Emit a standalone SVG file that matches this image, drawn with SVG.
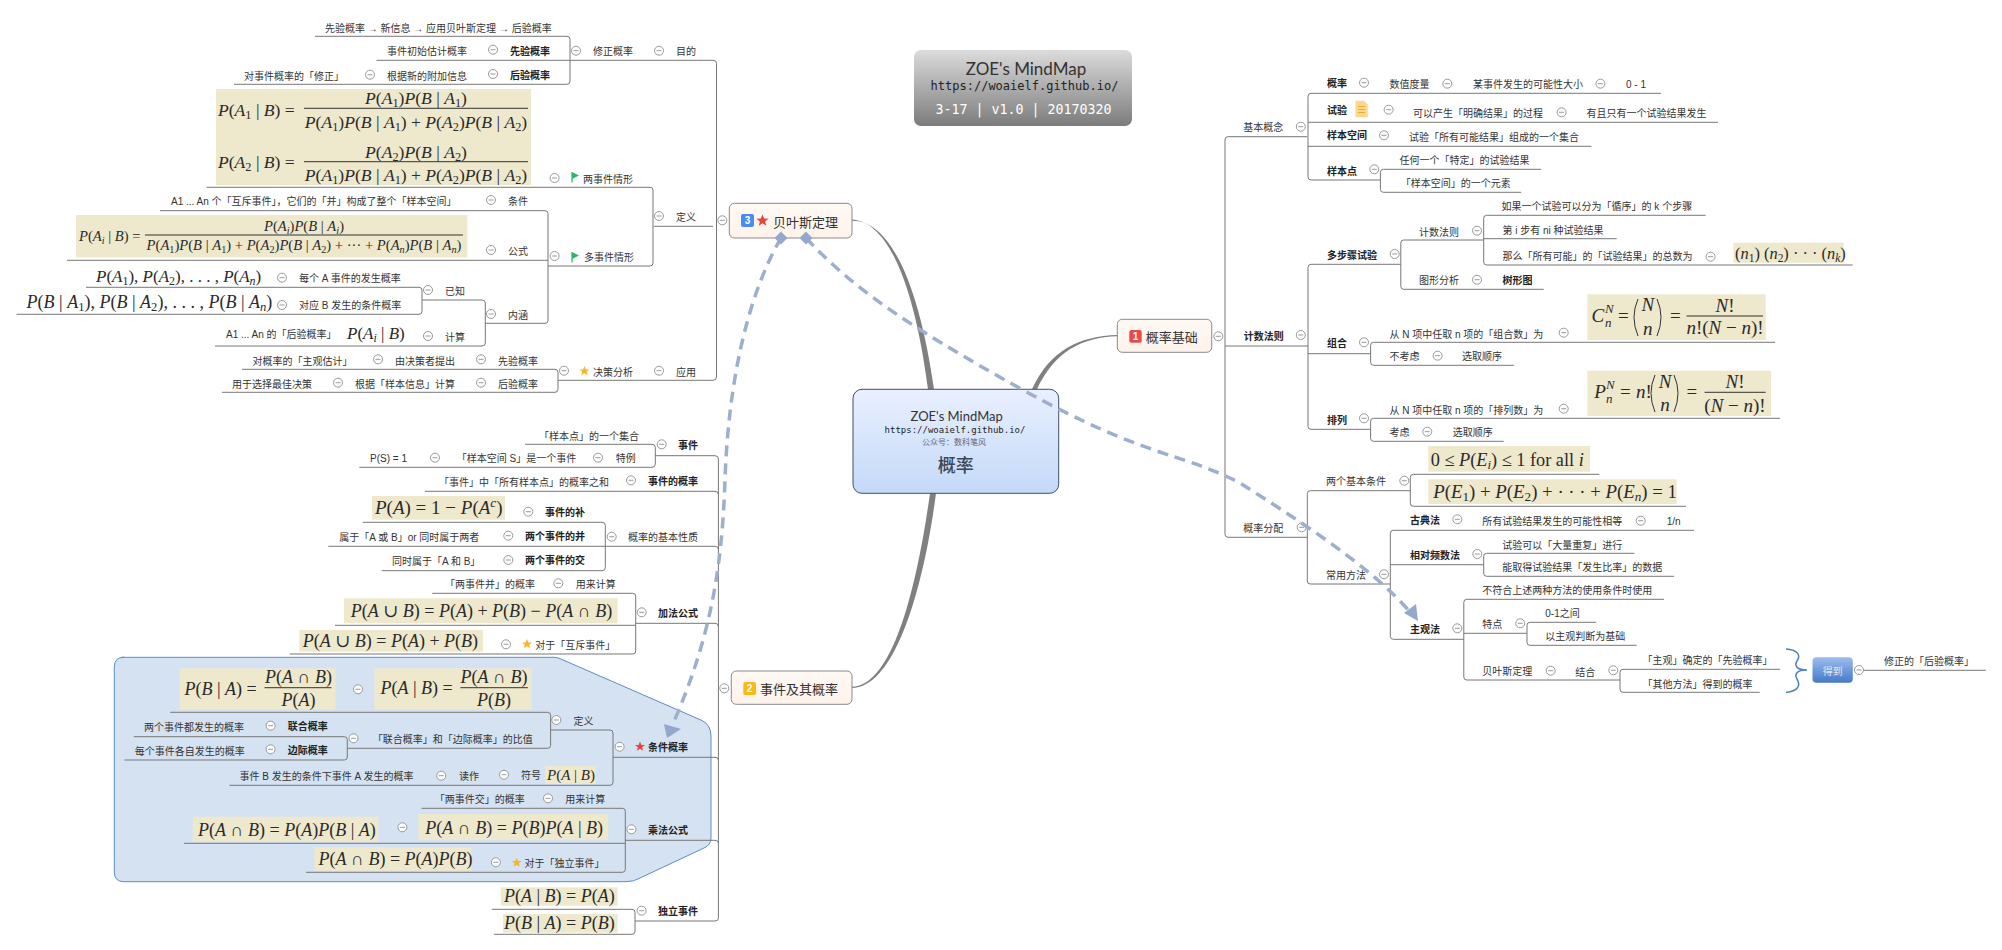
<svg xmlns="http://www.w3.org/2000/svg" width="2002" height="950" viewBox="0 0 2002 950">
<style>
svg{font-family:"Liberation Sans","Noto Sans CJK SC",sans-serif;font-size:10px}
text{fill:#333}
.b{font-weight:bold;fill:#222}
.tt{font-size:13px;fill:#333}
text.m{font-family:"Liberation Serif","DejaVu Serif",serif;fill:#2a2a2a}
.m tspan{font-style:italic}
.m tspan.s{font-style:normal;font-size:70%;baseline-shift:-.25em}
.m tspan.si{font-size:70%;baseline-shift:-.25em}
.m tspan.u{font-size:70%;baseline-shift:.5em}
.eq{fill:#eee8cd}
.fl{stroke:#333;stroke-width:1;fill:none}
.mid{text-anchor:middle}
.cn{fill:none;stroke:#777;stroke-width:1}
.rel{fill:none;stroke:#9dafcc;stroke-width:3.5;stroke-dasharray:11 7}
.ra{fill:#94a8cc}
.top{fill:url(#gT);stroke:#8a8a8a;stroke-width:1}
.br{fill:#808080}
.mono{font-family:"DejaVu Sans Mono",monospace}
.dig{font-size:10px;font-weight:bold;fill:#fff;text-anchor:middle}
</style>
<defs>
<linearGradient id="gC" x1="0" y1="0" x2="0" y2="1"><stop offset="0" stop-color="#e9f0ff"/><stop offset="1" stop-color="#c4d9f8"/></linearGradient>
<linearGradient id="gT" x1="0" y1="0" x2="0" y2="1"><stop offset="0" stop-color="#fff9f4"/><stop offset="1" stop-color="#fdf3ea"/></linearGradient>
<linearGradient id="gH" x1="0" y1="0" x2="0" y2="1"><stop offset="0" stop-color="#dcdcdc"/><stop offset="1" stop-color="#7c7c7c"/></linearGradient>
<linearGradient id="gD" x1="0" y1="0" x2="0" y2="1"><stop offset="0" stop-color="#9dbdf0"/><stop offset="1" stop-color="#4678c8"/></linearGradient>
<g id="c"><circle r="4.5" fill="#fff" stroke="#999" stroke-width="1"/><path d="M-2.5 0H2.5" stroke="#999" stroke-width="1"/></g>
<polygon id="st" points="0,-5 1.4,-1.6 5,-1.5 2.2,.8 3.1,4.3 0,2.3 -3.1,4.3 -2.2,.8 -5,-1.5 -1.4,-1.6"/>
<path id="fg" d="M0 -5V5.5" stroke="#2ab56a" stroke-width="1.2" fill="none"/>
</defs>

<g id="boundary"><path d="M122 657.3H554Q558 657.3 562 659.5L702 720.5Q711 725 711 736V838Q711 845 704 848L640 878Q634 881.7 626 881.7H124Q114.3 881.7 114.3 872V667Q114.3 657.3 124 657.3Z" fill="#d5e2f2" stroke="#5b8ec4" stroke-width="1"/></g>

<g id="connectors">
<path class="br" d="M852 219.5C890 222 915 290 928 389.3L934 389.3C920 290 892 220 852 220.7Z"/>
<path class="br" d="M852 686.8C890 686 915 600 930 493.3L936 493.3C922 600 892 688 852 688Z"/>
<path class="br" d="M1117.3 335C1080 336 1050 350 1032 389.3L1037 389.3C1054 352 1082 337 1117.3 336.2Z"/>
<path class="cn" d="M315 36.3H567Q570 36.3 570 39.3V81.3Q570 84.3 567 84.3H234"/>
<path class="cn" d="M376.5 60.3H713Q716.5 60.3 716.5 63.3V377Q716.5 380.3 713 380.3H558"/>
<path class="cn" d="M206.6 187.3H650Q653 187.3 653 190V263Q653 266 650 266H548"/>
<path class="cn" d="M654 226.3H713"/>
<path class="cn" d="M160 210.7H545Q548 210.7 548 213.7V320.3Q548 323.3 545 323.3H485.3"/>
<path class="cn" d="M67 260.3H548"/>
<path class="cn" d="M86 287.3H419Q422 287.3 422 290.3V311.3Q422 314.3 419 314.3H16.5"/>
<path class="cn" d="M422 300H482Q485.3 300 485.3 303V343Q485.3 346 482 346H215"/>
<path class="cn" d="M242 369.3H555Q558 369.3 558 372.3V389.3Q558 392.3 555 392.3H222"/>
<path class="cn" d="M525 444.3H652Q655.3 444.3 655.3 447.3V464.3Q655.3 467.3 652 467.3H359.3"/>
<path class="cn" d="M655 455.7H715Q718.4 455.7 718.4 459V918Q718.4 921 715 921H635"/>
<path class="cn" d="M425 491.3H715Q718.4 491.3 718.4 494.5"/>
<path class="cn" d="M362.7 522.3H602Q605.3 522.3 605.3 525.3V567.7Q605.3 570.7 602 570.7H381.7"/>
<path class="cn" d="M328.3 546.3H715Q718.4 546.3 718.4 549.5"/>
<path class="cn" d="M432.3 593.3H632.7Q635.7 593.3 635.7 596.3V651Q635.7 654 632.7 654H289.8"/>
<path class="cn" d="M335 625.3H635.7"/>
<path class="cn" d="M635.7 623.3H715Q718.4 623.3 718.4 626.5"/>
<path class="cn" d="M170.2 712.3H547.6Q550.6 712.3 550.6 715.3V745.3Q550.6 748.3 547.6 748.3H347.3"/>
<path class="cn" d="M133.9 736.7H344.3Q347.3 736.7 347.3 739.7V757Q347.3 760 344.3 760H124.5"/>
<path class="cn" d="M551 730H610Q613 730 613 733V782.3Q613 785.3 610 785.3H229.4"/>
<path class="cn" d="M613 757.3H715Q718.4 757.3 718.4 760"/>
<path class="cn" d="M421.6 808.3H622.3Q625.3 808.3 625.3 811.3V869.3Q625.3 872.3 622.3 872.3H306"/>
<path class="cn" d="M184 843.3H625.3"/>
<path class="cn" d="M625.3 840.3H715Q718.4 840.3 718.4 843"/>
<path class="cn" d="M491.8 909.3H632Q635 909.3 635 912.3V931.3Q635 934.3 632 934.3H493.9"/>
<path class="cn" d="M1307.3 136.7H1228Q1225 136.7 1225 139.7V534.3Q1225 537.3 1228 537.3H1307.3"/>
<path class="cn" d="M1225 346H1308"/>
<path class="cn" d="M1661 93.3H1311Q1308 93.3 1308 96.3V177Q1308 180 1311 180H1380"/>
<path class="cn" d="M1308 122.3H1718M1308 146.3H1591.4"/>
<path class="cn" d="M1541.2 169.3H1383.4Q1380.4 169.3 1380.4 172.3V189.3Q1380.4 192.3 1383.4 192.3H1521.2"/>
<path class="cn" d="M1705.7 215.3H1486.7Q1483.7 215.3 1483.7 218.3V262Q1483.7 265 1486.7 265H1852.7"/>
<path class="cn" d="M1483.7 238.7H1616.7"/>
<path class="cn" d="M1483.7 240H1403.8Q1400.8 240 1400.8 243V286.3Q1400.8 289.3 1403.8 289.3H1543.7"/>
<path class="cn" d="M1400.8 264.3H1311Q1308 264.3 1308 267.3V426.3Q1308 429.3 1311 429.3H1370.6"/>
<path class="cn" d="M1308 353.7H1370.6"/>
<path class="cn" d="M1775 342.3H1373.6Q1370.6 342.3 1370.6 345.3V362.3Q1370.6 365.3 1373.6 365.3H1513.9"/>
<path class="cn" d="M1780 418.3H1373.6Q1370.6 418.3 1370.6 421.3V438.3Q1370.6 441.3 1373.6 441.3H1503.7"/>
<path class="cn" d="M1410.3 490.7H1310.3Q1307.3 490.7 1307.3 493.7V581Q1307.3 584 1310.3 584H1390.3"/>
<path class="cn" d="M1599.3 474.3H1413.3Q1410.3 474.3 1410.3 477.3V503.3Q1410.3 506.3 1413.3 506.3H1686"/>
<path class="cn" d="M1694 530.3H1393.3Q1390.3 530.3 1390.3 533.3V636.3Q1390.3 639.3 1393.3 639.3H1463.8"/>
<path class="cn" d="M1390.3 564.7H1483.7"/>
<path class="cn" d="M1634.3 553.3H1486.7Q1483.7 553.3 1483.7 556.3V573.3Q1483.7 576.3 1486.7 576.3H1674"/>
<path class="cn" d="M1664 599.3H1466.8Q1463.8 599.3 1463.8 602.3V677Q1463.8 680 1466.8 680H1620"/>
<path class="cn" d="M1463.8 633.3H1527"/>
<path class="cn" d="M1596.3 622.3H1530Q1527 622.3 1527 625.3V642.3Q1527 645.3 1530 645.3H1636.6"/>
<path class="cn" d="M1779.9 669.3H1623Q1620 669.3 1620 672.3V689.3Q1620 692.3 1623 692.3H1759.7"/>
<path class="cn" d="M1862 670.3H1985.8"/>
<path d="M1786 649C1798 650 1801 655 1797 661C1794 666 1797 670 1807 670C1797 670 1794 674 1797 679C1801 686 1798 691 1786 692.5" fill="none" stroke="#4f81bd" stroke-width="1.5"/>
</g>

<g id="title"><rect x="914" y="50" width="218" height="76" rx="7" fill="url(#gH)"/>
<text x="1026" y="75" class="mid" style="font-size:17px;font-family:Lato,sans-serif">ZOE's MindMap</text>
<text x="1024.5" y="90" class="mid mono" style="font-size:12px;fill:#222">https://woaielf.github.io/</text>
<text x="1023.5" y="114" class="mid mono" style="font-size:13.3px;fill:#fff">3-17 | v1.0 | 20170320</text></g>

<g id="center"><rect x="853" y="389.3" width="205.7" height="104" rx="9" fill="url(#gC)" stroke="#3d4f6d" stroke-width="1"/>
<text x="956.7" y="421" class="mid" style="font-size:13px;font-family:Lato,sans-serif">ZOE's MindMap</text>
<text x="955" y="432.5" class="mid mono" style="font-size:9px;fill:#222">https://woaielf.github.io/</text>
<text x="954" y="444.5" class="mid" style="font-size:8px;fill:#667">公众号：数科笔风</text>
<text x="955.7" y="472" class="mid" style="font-size:18px;font-weight:500;fill:#3a4656">概率</text></g>

<g id="node1"><rect class="top" x="1117.3" y="319.3" width="94.4" height="33" rx="5"/><rect x="1129.3" y="330" width="12.4" height="12.7" rx="2" fill="#e84a4a"/><text class="dig" x="1135.5" y="340">1</text><text class="tt" x="1145.7" y="341.5">概率基础</text><use href="#c" x="1218.3" y="336.3"/></g>
<g id="node2"><rect class="top" x="731.3" y="671" width="120.7" height="33.3" rx="5"/><rect x="743.3" y="682" width="12.7" height="13" rx="2" fill="#fbb916"/><text class="dig" x="749.6" y="692">2</text><text class="tt" x="760" y="694">事件及其概率</text><use href="#c" x="724.3" y="688.3"/></g>
<g id="node3"><rect class="top" x="729.3" y="203.3" width="122.7" height="34.7" rx="5"/><rect x="741" y="214" width="13" height="13" rx="2" fill="#4a8af4"/><text class="dig" x="747.5" y="224">3</text><use href="#st" transform="translate(762.5 220.5) scale(1.2)" fill="#e8453c"/><text class="tt" x="773" y="226.5">贝叶斯定理</text><use href="#c" x="722.3" y="220.3"/></g>

<g id="bayes-goal">
<text x="325" y="31.5">先验概率 → 新信息 → 应用贝叶斯定理 → 后验概率</text>
<g id="l1"><text x="387" y="55">事件初始估计概率</text><use href="#c" x="493" y="49.7"/><text class="b" x="510" y="54.5">先验概率</text></g>
<g id="l2"><text x="244" y="79.5">对事件概率的「修正」</text><use href="#c" x="370" y="74.7"/><text x="387" y="79.5">根据新的附加信息</text><use href="#c" x="493" y="74"/><text class="b" x="510" y="78.5">后验概率</text></g>
<g id="l3"><use href="#c" x="576" y="50.7"/><text x="593" y="54.5">修正概率</text><use href="#c" x="659" y="50.7"/><text x="676" y="54.5">目的</text></g>
</g>

<g id="eq-two">
<rect class="eq" x="216" y="89" width="315" height="96"/>
<text class="m" font-size="17.6" x="218" y="116"><tspan>P</tspan>(<tspan>A</tspan><tspan class="s">1</tspan> | <tspan>B</tspan>) =</text>
<text class="m mid" font-size="17.6" x="416" y="104"><tspan>P</tspan>(<tspan>A</tspan><tspan class="s">1</tspan>)<tspan>P</tspan>(<tspan>B</tspan> | <tspan>A</tspan><tspan class="s">1</tspan>)</text>
<path class="fl" d="M304 108.3H528"/>
<text class="m mid" font-size="17.6" x="416" y="128"><tspan>P</tspan>(<tspan>A</tspan><tspan class="s">1</tspan>)<tspan>P</tspan>(<tspan>B</tspan> | <tspan>A</tspan><tspan class="s">1</tspan>) + <tspan>P</tspan>(<tspan>A</tspan><tspan class="s">2</tspan>)<tspan>P</tspan>(<tspan>B</tspan> | <tspan>A</tspan><tspan class="s">2</tspan>)</text>
<text class="m" font-size="17.6" x="218" y="168"><tspan>P</tspan>(<tspan>A</tspan><tspan class="s">2</tspan> | <tspan>B</tspan>) =</text>
<text class="m mid" font-size="17.6" x="416" y="158"><tspan>P</tspan>(<tspan>A</tspan><tspan class="s">2</tspan>)<tspan>P</tspan>(<tspan>B</tspan> | <tspan>A</tspan><tspan class="s">2</tspan>)</text>
<path class="fl" d="M304 161.7H528"/>
<text class="m mid" font-size="17.6" x="416" y="181"><tspan>P</tspan>(<tspan>A</tspan><tspan class="s">1</tspan>)<tspan>P</tspan>(<tspan>B</tspan> | <tspan>A</tspan><tspan class="s">1</tspan>) + <tspan>P</tspan>(<tspan>A</tspan><tspan class="s">2</tspan>)<tspan>P</tspan>(<tspan>B</tspan> | <tspan>A</tspan><tspan class="s">2</tspan>)</text>
</g>
<g id="l4"><use href="#c" x="554.6" y="178"/><use href="#fg" x="572" y="177"/><path d="M572 172L579 175.5L572 179Z" fill="#2ab56a"/><text x="583" y="182.5">两事件情形</text></g>
<g id="l5"><text x="171" y="205">A1 ... An 个「互斥事件」，它们的「并」构成了整个「样本空间」</text><use href="#c" x="491" y="200"/><text x="508" y="205">条件</text></g>
<g id="eq-multi"><rect class="eq" x="76" y="215" width="391.4" height="42.3"/>
<text class="m" font-size="14.6" x="79" y="241"><tspan>P</tspan>(<tspan>A</tspan><tspan class="si">i</tspan> | <tspan>B</tspan>) =</text>
<text class="m mid" font-size="14.6" x="304" y="231"><tspan>P</tspan>(<tspan>A</tspan><tspan class="si">i</tspan>)<tspan>P</tspan>(<tspan>B</tspan> | <tspan>A</tspan><tspan class="si">i</tspan>)</text>
<path class="fl" d="M145 235H463"/>
<text class="m mid" font-size="14.6" x="304" y="250"><tspan>P</tspan>(<tspan>A</tspan><tspan class="s">1</tspan>)<tspan>P</tspan>(<tspan>B</tspan> | <tspan>A</tspan><tspan class="s">1</tspan>) + <tspan>P</tspan>(<tspan>A</tspan><tspan class="s">2</tspan>)<tspan>P</tspan>(<tspan>B</tspan> | <tspan>A</tspan><tspan class="s">2</tspan>) + ··· + <tspan>P</tspan>(<tspan>A</tspan><tspan class="si">n</tspan>)<tspan>P</tspan>(<tspan>B</tspan> | <tspan>A</tspan><tspan class="si">n</tspan>)</text></g>
<g id="l6"><use href="#c" x="491" y="250"/><text x="508" y="255">公式</text></g>
<g id="l7"><use href="#c" x="554.6" y="256"/><use href="#fg" x="572" y="257"/><path d="M572 252L579 255.5L572 259Z" fill="#2ab56a"/><text x="584" y="261">多事件情形</text></g>
<g id="l8"><use href="#c" x="659" y="216"/><text x="676" y="221">定义</text></g>
<g id="l9"><text class="m" font-size="17" x="96" y="282"><tspan>P</tspan>(<tspan>A</tspan><tspan class="s">1</tspan>), <tspan>P</tspan>(<tspan>A</tspan><tspan class="s">2</tspan>), . . . , <tspan>P</tspan>(<tspan>A</tspan><tspan class="si">n</tspan>)</text><use href="#c" x="282" y="277.7"/><text x="299" y="282">每个 A 事件的发生概率</text></g>
<g id="l10"><text class="m" font-size="18" x="26.6" y="307.7"><tspan>P</tspan>(<tspan>B</tspan> | <tspan>A</tspan><tspan class="s">1</tspan>), <tspan>P</tspan>(<tspan>B</tspan> | <tspan>A</tspan><tspan class="s">2</tspan>), . . . , <tspan>P</tspan>(<tspan>B</tspan> | <tspan>A</tspan><tspan class="si">n</tspan>)</text><use href="#c" x="282" y="305"/><text x="299" y="309">对应 B 发生的条件概率</text></g>
<g id="l11"><use href="#c" x="428" y="290"/><text x="445" y="295">已知</text></g>
<g id="l12"><text x="226" y="337.5">A1 ... An 的「后验概率」</text><text class="m" font-size="17" x="347" y="338.5"><tspan>P</tspan>(<tspan>A</tspan><tspan class="si">i</tspan> | <tspan>B</tspan>)</text><use href="#c" x="428" y="336"/><text x="445" y="341">计算</text></g>
<g id="l13"><use href="#c" x="491" y="314"/><text x="508" y="318.5">内涵</text></g>
<g id="l14"><text x="252.5" y="365">对概率的「主观估计」</text><use href="#c" x="378" y="359.3"/><text x="395" y="365">由决策者提出</text><use href="#c" x="481" y="359.3"/><text x="498" y="365">先验概率</text></g>
<g id="l15"><text x="232" y="387.5">用于选择最佳决策</text><use href="#c" x="338" y="382.7"/><text x="355" y="387.5">根据「样本信息」计算</text><use href="#c" x="481" y="382.7"/><text x="498" y="387.5">后验概率</text></g>
<g id="l16"><use href="#c" x="564" y="370.7"/><use href="#st" x="584.5" y="371" fill="#f5b52c"/><text x="593" y="375.5">决策分析</text><use href="#c" x="659" y="370.7"/><text x="676" y="375.5">应用</text></g>

<g id="e1"><text x="539" y="439.5">「样本点」的一个集合</text><use href="#c" x="661.7" y="444.3"/><text class="b" x="678" y="448.7">事件</text></g>
<g id="e2"><text x="370" y="461.7">P(S) = 1</text><use href="#c" x="435" y="457.7"/><text x="456.7" y="462">「样本空间 S」是一个事件</text><use href="#c" x="598" y="457.7"/><text x="615.7" y="462">特例</text></g>
<g id="e3"><text x="439" y="486">「事件」中「所有样本点」的概率之和</text><use href="#c" x="631" y="480.3"/><text class="b" x="648" y="485">事件的概率</text></g>
<g id="e4"><rect class="eq" x="372" y="496" width="133" height="23.7"/><text class="m" font-size="19" x="375" y="513.5"><tspan>P</tspan>(<tspan>A</tspan>) = 1 − <tspan>P</tspan>(<tspan>A</tspan><tspan class="u">c</tspan>)</text><use href="#c" x="528.3" y="511.7"/><text class="b" x="545" y="516">事件的补</text></g>
<g id="e5"><text x="339.3" y="541">属于「A 或 B」or 同时属于两者</text><use href="#c" x="508.3" y="535.7"/><text class="b" x="525" y="540.4">两个事件的并</text></g>
<g id="e6"><text x="392" y="565.4">同时属于「A 和 B」</text><use href="#c" x="508.3" y="560"/><text class="b" x="525" y="564.4">两个事件的交</text></g>
<g id="e7"><use href="#c" x="611.7" y="536.7"/><text x="628" y="541">概率的基本性质</text></g>
<g id="e8"><text x="445" y="588.4">「两事件并」的概率</text><use href="#c" x="558.3" y="583.3"/><text x="575.7" y="588">用来计算</text></g>
<g id="e9"><rect class="eq" x="344" y="598.3" width="273.7" height="25"/><text class="m" font-size="18" x="350.7" y="616.7"><tspan>P</tspan>(<tspan>A</tspan> ∪ <tspan>B</tspan>) = <tspan>P</tspan>(<tspan>A</tspan>) + <tspan>P</tspan>(<tspan>B</tspan>) − <tspan>P</tspan>(<tspan>A</tspan> ∩ <tspan>B</tspan>)</text><use href="#c" x="641.7" y="612.3"/><text class="b" x="658" y="617">加法公式</text></g>
<g id="e10"><rect class="eq" x="299.3" y="630" width="183.6" height="21.7"/><text class="m" font-size="18" x="302.7" y="646.7"><tspan>P</tspan>(<tspan>A</tspan> ∪ <tspan>B</tspan>) = <tspan>P</tspan>(<tspan>A</tspan>) + <tspan>P</tspan>(<tspan>B</tspan>)</text><use href="#c" x="506" y="644.3"/><use href="#st" x="527" y="644" fill="#f5b52c"/><text x="535.3" y="649">对于「互斥事件」</text></g>

<g id="eq-cond">
<rect class="eq" x="179.6" y="668.3" width="155.9" height="41"/>
<text class="m" font-size="18" x="184.5" y="695"><tspan>P</tspan>(<tspan>B</tspan> | <tspan>A</tspan>) =</text>
<text class="m mid" font-size="18" x="298.4" y="682.5"><tspan>P</tspan>(<tspan>A</tspan> ∩ <tspan>B</tspan>)</text><path class="fl" d="M264.5 687.7H331.4"/>
<text class="m mid" font-size="18" x="298.4" y="706"><tspan>P</tspan>(<tspan>A</tspan>)</text>
<use href="#c" x="358" y="689.3"/>
<rect class="eq" x="374.3" y="668.3" width="157.5" height="41"/>
<text class="m" font-size="18" x="380.4" y="693.7"><tspan>P</tspan>(<tspan>A</tspan> | <tspan>B</tspan>) =</text>
<text class="m mid" font-size="18" x="493.9" y="682.5"><tspan>P</tspan>(<tspan>A</tspan> ∩ <tspan>B</tspan>)</text><path class="fl" d="M460.4 687.7H527.8"/>
<text class="m mid" font-size="18" x="493.9" y="706"><tspan>P</tspan>(<tspan>B</tspan>)</text>
</g>
<g id="c1"><use href="#c" x="556.3" y="720"/><text x="573.5" y="725.2">定义</text></g>
<g id="c2"><text x="144" y="731">两个事件都发生的概率</text><use href="#c" x="270.6" y="725.7"/><text class="b" x="287.8" y="730">联合概率</text></g>
<g id="c3"><text x="134.7" y="755">每个事件各自发生的概率</text><use href="#c" x="270.6" y="749.3"/><text class="b" x="287.8" y="754">边际概率</text></g>
<g id="c4"><use href="#c" x="353.5" y="738.3"/><text x="372.7" y="743">「联合概率」和「边际概率」的比值</text></g>
<g id="c5"><text x="239.6" y="780">事件 B 发生的条件下事件 A 发生的概率</text><use href="#c" x="441.2" y="775.7"/><text x="459" y="780">读作</text><use href="#c" x="504" y="774.7"/><text x="521" y="779">符号</text><rect class="eq" x="545" y="766" width="51" height="18"/><text class="m" font-size="15" x="547" y="779.5"><tspan>P</tspan>(<tspan>A</tspan> | <tspan>B</tspan>)</text></g>
<g id="c6"><use href="#c" x="619.6" y="746.7"/><use href="#st" x="640" y="746.5" fill="#e8453c"/><text class="b" x="648" y="751">条件概率</text></g>
<g id="c7"><text x="434.7" y="803">「两事件交」的概率</text><use href="#c" x="548" y="798.3"/><text x="565.3" y="803">用来计算</text></g>
<g id="c8"><rect class="eq" x="192.7" y="816.7" width="185.7" height="25"/><text class="m" font-size="18" x="198" y="836"><tspan>P</tspan>(<tspan>A</tspan> ∩ <tspan>B</tspan>) = <tspan>P</tspan>(<tspan>A</tspan>)<tspan>P</tspan>(<tspan>B</tspan> | <tspan>A</tspan>)</text><use href="#c" x="402.4" y="827.3"/><rect class="eq" x="418.4" y="814" width="189.8" height="26"/><text class="m" font-size="18" x="425.3" y="833.7"><tspan>P</tspan>(<tspan>A</tspan> ∩ <tspan>B</tspan>) = <tspan>P</tspan>(<tspan>B</tspan>)<tspan>P</tspan>(<tspan>A</tspan> | <tspan>B</tspan>)</text></g>
<g id="c9"><rect class="eq" x="314.3" y="847.3" width="157.1" height="23.4"/><text class="m" font-size="18" x="318.4" y="864.7"><tspan>P</tspan>(<tspan>A</tspan> ∩ <tspan>B</tspan>) = <tspan>P</tspan>(<tspan>A</tspan>)<tspan>P</tspan>(<tspan>B</tspan>)</text><use href="#c" x="495.9" y="862.3"/><use href="#st" x="516.7" y="862.5" fill="#f5b52c"/><text x="524.5" y="867">对于「独立事件」</text></g>
<g id="c10"><use href="#c" x="631.4" y="829.3"/><text class="b" x="648" y="834">乘法公式</text></g>
<g id="c11"><rect class="eq" x="500.8" y="887.3" width="116.8" height="18.4"/><text class="m" font-size="18" x="504" y="902"><tspan>P</tspan>(<tspan>A</tspan> | <tspan>B</tspan>) = <tspan>P</tspan>(<tspan>A</tspan>)</text></g>
<g id="c12"><rect class="eq" x="502.9" y="914" width="114.7" height="18.7"/><text class="m" font-size="18" x="504" y="929.3"><tspan>P</tspan>(<tspan>B</tspan> | <tspan>A</tspan>) = <tspan>P</tspan>(<tspan>B</tspan>)</text></g>
<g id="c13"><use href="#c" x="641.6" y="910.7"/><text class="b" x="658" y="915.3">独立事件</text></g>

<g id="r1"><text x="1243.3" y="131.3">基本概念</text><use href="#c" x="1300.8" y="126.7"/></g>
<g id="r2"><text class="b" x="1327" y="87.3">概率</text><use href="#c" x="1364" y="82.7"/><text x="1389.4" y="88">数值度量</text><use href="#c" x="1447.3" y="83.7"/><text x="1473" y="88.3">某事件发生的可能性大小</text><use href="#c" x="1600.4" y="83.7"/><text x="1626" y="88.3">0 - 1</text></g>
<g id="r3"><text class="b" x="1327" y="114.3">试验</text><path d="M1355.5 100.7H1364L1367.8 104.5V117.3H1355.5Z" fill="#fcd98a"/><path d="M1358 106.5H1365M1358 109.5H1365M1358 112.5H1365" stroke="#e5ad3f" stroke-width="1"/><use href="#c" x="1388.6" y="109.7"/><text x="1413" y="117">可以产生「明确结果」的过程</text><use href="#c" x="1561.6" y="112.3"/><text x="1586.5" y="117">有且只有一个试验结果发生</text></g>
<g id="r4"><text class="b" x="1327" y="139.3">样本空间</text><use href="#c" x="1384" y="135.3"/><text x="1409" y="141.3">试验「所有可能结果」组成的一个集合</text></g>
<g id="r5"><text class="b" x="1327" y="174.6">样本点</text><use href="#c" x="1374.3" y="169.3"/><text x="1399.6" y="164.3">任何一个「特定」的试验结果</text><text x="1400.8" y="187.3">「样本空间」的一个元素</text></g>
<g id="r6"><text x="1501.6" y="210.3">如果一个试验可以分为「循序」的 k 个步骤</text><text x="1502.4" y="233.6">第 i 步有 ni 种试验结果</text><text x="1502.4" y="260.3">那么「所有可能」的「试验结果」的总数为</text><use href="#c" x="1710.6" y="256.7"/><rect class="eq" x="1733.5" y="242.7" width="110.2" height="20"/><text class="m" font-size="16.4" x="1735" y="258.5">(<tspan>n</tspan><tspan class="s">1</tspan>) (<tspan>n</tspan><tspan class="s">2</tspan>) · · · (<tspan>n</tspan><tspan class="si">k</tspan>)</text></g>
<g id="r7"><text x="1419" y="235.6">计数法则</text><use href="#c" x="1477" y="230.7"/><text x="1419" y="284">图形分析</text><use href="#c" x="1477" y="279.7"/><text class="b" x="1502.4" y="283.6">树形图</text></g>
<g id="r8"><text class="b" x="1327" y="258.6">多步骤试验</text><use href="#c" x="1394.7" y="254"/></g>
<g id="r9"><text class="b" x="1243.7" y="340.3">计数法则</text><use href="#c" x="1300.8" y="335"/></g>
<g id="r10"><text class="b" x="1327" y="347">组合</text><use href="#c" x="1364" y="342.3"/><text x="1389.4" y="337.6">从 N 项中任取 n 项的「组合数」为</text><use href="#c" x="1563.7" y="332.7"/><rect class="eq" x="1587.3" y="294.3" width="178.4" height="45.7"/>
<text class="m" font-size="19" x="1591.4" y="322"><tspan>C</tspan></text><text class="m" font-size="13" x="1605" y="313"><tspan>N</tspan></text><text class="m" font-size="13" x="1605" y="327"><tspan>n</tspan></text><text class="m" font-size="19" x="1618" y="322">=</text>
<path class="fl" d="M1638 299Q1630 317 1638 336M1657 299Q1665 317 1657 336"/>
<text class="m mid" font-size="19" x="1647.8" y="311"><tspan>N</tspan></text><text class="m mid" font-size="19" x="1647.8" y="335"><tspan>n</tspan></text><text class="m" font-size="19" x="1670" y="322">=</text>
<text class="m mid" font-size="19" x="1725" y="312"><tspan>N</tspan>!</text><path class="fl" d="M1686.5 316H1763"/><text class="m mid" font-size="19" x="1725" y="333.5"><tspan>n</tspan>!(<tspan>N</tspan> − <tspan>n</tspan>)!</text></g>
<g id="r11"><text x="1389.4" y="360.3">不考虑</text><use href="#c" x="1437.6" y="355.7"/><text x="1462" y="360.3">选取顺序</text></g>
<g id="r12"><text class="b" x="1327" y="423.6">排列</text><use href="#c" x="1364" y="418.3"/><text x="1389.4" y="413.6">从 N 项中任取 n 项的「排列数」为</text><use href="#c" x="1563.7" y="408.7"/><rect class="eq" x="1587.3" y="370.7" width="183.7" height="45.3"/>
<text class="m" font-size="19" x="1594.3" y="398"><tspan>P</tspan></text><text class="m" font-size="13" x="1606" y="389"><tspan>N</tspan></text><text class="m" font-size="13" x="1606" y="403"><tspan>n</tspan></text><text class="m" font-size="19" x="1620" y="398">=</text><text class="m" font-size="19" x="1636" y="398"><tspan>n</tspan>!</text>
<path class="fl" d="M1655 375Q1647 393 1655 412M1674 375Q1682 393 1674 412"/>
<text class="m mid" font-size="19" x="1665" y="387.5"><tspan>N</tspan></text><text class="m mid" font-size="19" x="1665" y="411"><tspan>n</tspan></text><text class="m" font-size="19" x="1686.5" y="398">=</text>
<text class="m mid" font-size="19" x="1735" y="388"><tspan>N</tspan>!</text><path class="fl" d="M1704.5 392.3H1765.7"/><text class="m mid" font-size="19" x="1735" y="412">(<tspan>N</tspan> − <tspan>n</tspan>)!</text></g>
<g id="r13"><text x="1389.4" y="436.3">考虑</text><use href="#c" x="1427.3" y="431.7"/><text x="1452.7" y="436.3">选取顺序</text></g>
<g id="r14"><text x="1243.3" y="532.3">概率分配</text><use href="#c" x="1301.7" y="527.3"/></g>
<g id="r15"><text x="1326" y="485.3">两个基本条件</text><use href="#c" x="1404.3" y="480.7"/><rect class="eq" x="1428.3" y="446" width="161.7" height="25.7"/><text class="m" font-size="18.3" x="1430.7" y="466">0 ≤ <tspan>P</tspan>(<tspan>E</tspan><tspan class="si">i</tspan>) ≤ 1 for all <tspan>i</tspan></text><rect class="eq" x="1428.3" y="479.3" width="248.4" height="24.7"/><text class="m" font-size="18.8" x="1433.3" y="498"><tspan>P</tspan>(<tspan>E</tspan><tspan class="s">1</tspan>) + <tspan>P</tspan>(<tspan>E</tspan><tspan class="s">2</tspan>) + · · · + <tspan>P</tspan>(<tspan>E</tspan><tspan class="si">n</tspan>) = 1</text></g>
<g id="r16"><text x="1326" y="579.3">常用方法</text><use href="#c" x="1384" y="574.3"/></g>
<g id="r17"><text class="b" x="1410" y="524">古典法</text><use href="#c" x="1457.3" y="519.3"/><text x="1482.3" y="525.3">所有试验结果发生的可能性相等</text><use href="#c" x="1640.7" y="520.7"/><text x="1666.7" y="525.3">1/n</text></g>
<g id="r18"><text class="b" x="1410" y="558.6">相对频数法</text><use href="#c" x="1477.3" y="554"/><text x="1502.3" y="548.6">试验可以「大量重复」进行</text><text x="1502.3" y="571">能取得试验结果「发生比率」的数据</text></g>
<g id="r19"><text x="1482.3" y="594.3">不符合上述两种方法的使用条件时使用</text><text class="b" x="1410" y="633">主观法</text><use href="#c" x="1457.3" y="628.3"/></g>
<g id="r20"><text x="1482.2" y="628">特点</text><use href="#c" x="1520.2" y="623.3"/><text x="1545.3" y="617">0-1之间</text><text x="1545.3" y="640.3">以主观判断为基础</text></g>
<g id="r21"><text x="1482.2" y="675.3">贝叶斯定理</text><use href="#c" x="1550.7" y="670.7"/><text x="1575.3" y="675.6">结合</text><use href="#c" x="1613.3" y="670.3"/><text x="1642.4" y="664.3">「主观」确定的「先验概率」</text><text x="1642.4" y="687.6">「其他方法」得到的概率</text></g>
<g id="r22"><rect x="1812.5" y="657.3" width="40.3" height="25.4" rx="4" fill="url(#gD)"/><text x="1822.8" y="675.3" style="fill:#dfe9f8">得到</text><use href="#c" x="1859" y="670"/><text x="1884" y="665.3">修正的「后验概率」</text></g>

<g id="relations">
<path class="rel" d="M806 238C850 285 900 322 1023 390S1180 452 1240 483C1290 515 1370 565 1410 612"/>
<path class="rel" d="M781 238C745 300 728 390 725 480C722 570 710 640 672 726"/>
<polygon class="ra" points="806,231.5 812.5,238 806,244.5 799.5,238"/>
<polygon class="ra" points="781,231.5 787.5,238 781,244.5 774.5,238"/>
<polygon class="ra" points="1418,621 1404,613 1416,604"/>
<polygon class="ra" points="667,738 664,724 681,729"/>
</g>
</svg>
